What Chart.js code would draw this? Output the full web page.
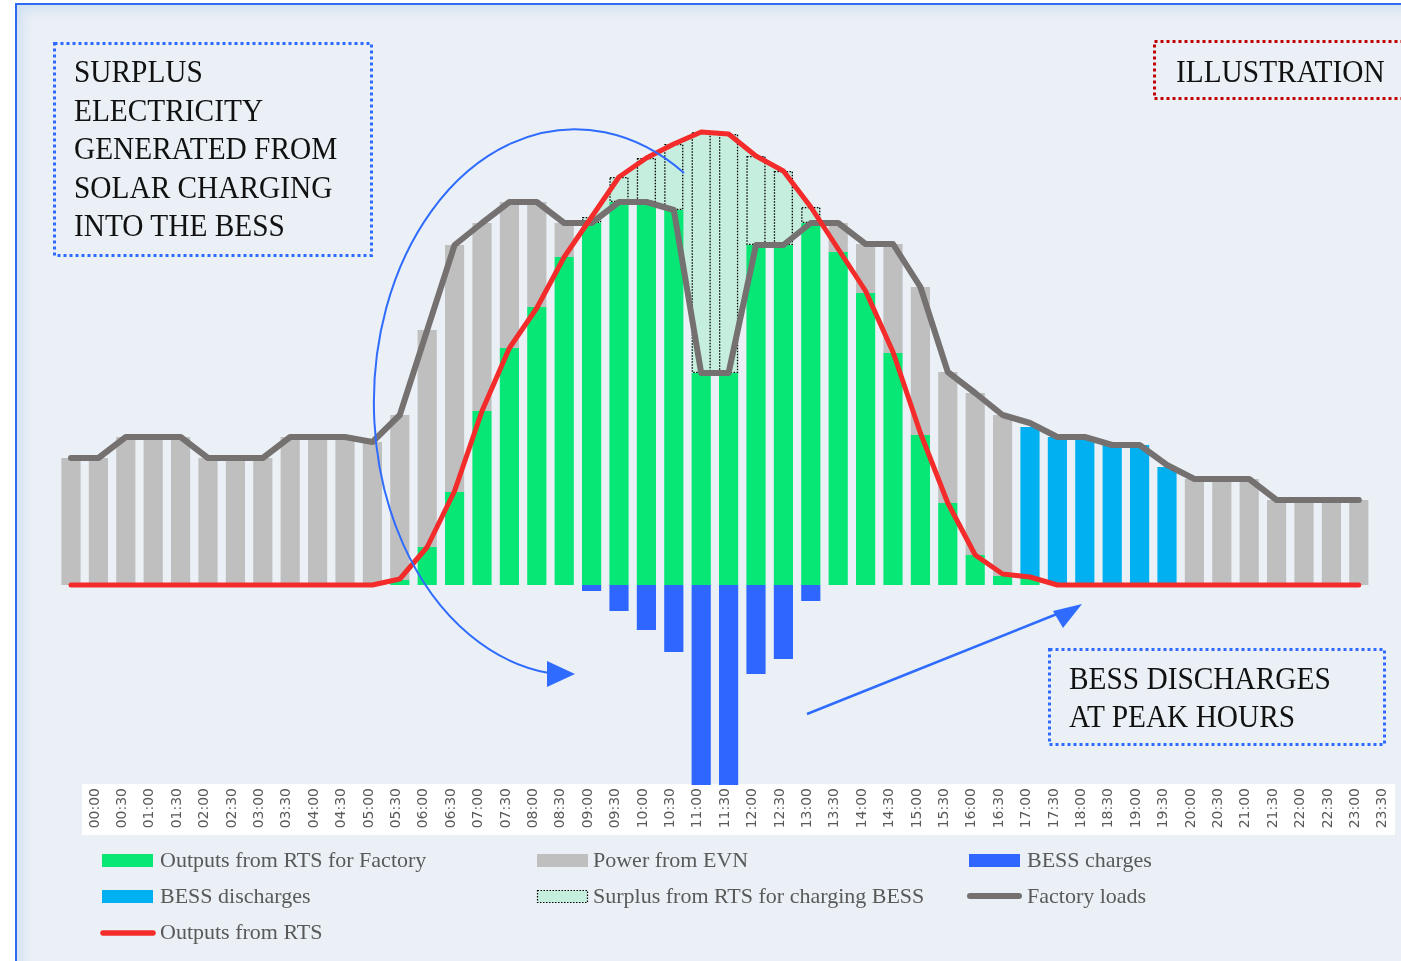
<!DOCTYPE html>
<html><head><meta charset="utf-8">
<script src="https://cdn.jsdelivr.net/npm/chart.js"></script>
<style>
html,body{margin:0;padding:0;background:#fff;width:1401px;height:961px;overflow:hidden;position:relative;}
#frame{position:absolute;left:15px;top:3px;width:1420px;height:990px;border-left:2px solid #2E6BF0;border-top:2px solid #2E6BF0;background:#EAF0F5;box-shadow:inset 10px 10px 14px -6px rgba(205,222,242,1);}
#c{position:absolute;left:0;top:0;}
#ov{position:absolute;left:0;top:0;}
.ann{position:absolute;font-family:'Liberation Serif',serif;font-size:32px;color:#111;line-height:38.6px;transform:scaleX(0.917);transform-origin:0 0;white-space:nowrap;}
.leg{position:absolute;font-family:'Liberation Serif',serif;font-size:22px;color:#595959;white-space:nowrap;line-height:22px;}
</style></head>
<body>
<div id="frame"></div>
<canvas id="c" width="1401" height="961"></canvas>
<svg id="ov" width="1401" height="961" xmlns="http://www.w3.org/2000/svg">
  <rect x="54.5" y="43.5" width="317" height="212" fill="none" stroke="#2F6BFF" stroke-width="3" stroke-dasharray="3 3"/>
  <rect x="1154.5" y="41.5" width="300" height="57" fill="none" stroke="#C00000" stroke-width="3" stroke-dasharray="3 3"/>
  <rect x="1049.5" y="649.5" width="335" height="95" fill="none" stroke="#2F6BFF" stroke-width="3" stroke-dasharray="3 3"/>
  <path d="M 684 173 A 201 273 0 1 0 549 673" fill="none" stroke="#2F6BFF" stroke-width="2"/>
  <polygon points="575,674 547,661 547,687" fill="#2F6BFF"/>
  <path d="M 807 714 L 1062 612" fill="none" stroke="#2F6BFF" stroke-width="2.5"/>
  <polygon points="1082,604 1053,611 1063,628" fill="#2F6BFF"/>
  <rect x="102" y="854" width="51" height="13" fill="#06E775"/>
  <rect x="537" y="854" width="51" height="13" fill="#BFBFBF"/>
  <rect x="969" y="854" width="51" height="13" fill="#2E66FF"/>
  <rect x="102" y="890" width="51" height="13" fill="#00B0F0"/>
  <rect x="537.5" y="890.5" width="50" height="12" fill="#C5EEDF" stroke="#000" stroke-width="1.2" stroke-dasharray="1.5 1.5"/>
  <line x1="970" y1="896" x2="1019" y2="896" stroke="#767171" stroke-width="6" stroke-linecap="round"/>
  <line x1="103" y1="933" x2="153" y2="933" stroke="#F32B2B" stroke-width="5.5" stroke-linecap="round"/>
</svg>
<div class="ann" style="left:74px;top:52px;">SURPLUS<br>ELECTRICITY<br>GENERATED FROM<br>SOLAR CHARGING<br>INTO THE BESS</div>
<div class="ann" style="left:1176px;top:52px;">ILLUSTRATION</div>
<div class="ann" style="left:1069px;top:659px;line-height:38px;">BESS DISCHARGES<br>AT PEAK HOURS</div>
<div class="leg" style="left:160px;top:849px;">Outputs from RTS for Factory</div>
<div class="leg" style="left:593px;top:849px;">Power from EVN</div>
<div class="leg" style="left:1027px;top:849px;">BESS charges</div>
<div class="leg" style="left:160px;top:885px;">BESS discharges</div>
<div class="leg" style="left:593px;top:885px;">Surplus from RTS for charging BESS</div>
<div class="leg" style="left:1027px;top:885px;">Factory loads</div>
<div class="leg" style="left:160px;top:921px;">Outputs from RTS</div>
<script>
const timeLabels = ['00:00','00:30','01:00','01:30','02:00','02:30','03:00','03:30','04:00','04:30','05:00','05:30',
  '06:00','06:30','07:00','07:30','08:00','08:30','09:00','09:30','10:00','10:30','11:00','11:30',
  '12:00','12:30','13:00','13:30','14:00','14:30','15:00','15:30','16:00','16:30','17:00','17:30',
  '18:00','18:30','19:00','19:30','20:00','20:30','21:00','21:30','22:00','22:30','23:00','23:30'];
const rtsForFactory = [0,0,0,0,0,0,0,0,0,0,0,0,
  5,38,93,174,237,278,328,362,383,383,375,212,
  212,340,340,362,333,292,232,150,82,30,9,6,
  0,0,0,0,0,0,0,0,0,0,0,0];
const bessDischarges = [0,0,0,0,0,0,0,0,0,0,0,0,
  0,0,0,0,0,0,0,0,0,0,0,0,
  0,0,0,0,0,0,0,0,0,0,0,152,
  148,147,140,140,118,0,0,0,0,0,0,0];
const powerFromEVN = [127,127,148,148,148,127,127,127,148,148,148,143,
  165,217,247,188,146,105,34,0,0,0,0,0,
  0,0,0,0,29,49,109,148,131,162,161,0,
  0,0,0,0,0,106,106,106,85,85,85,85];
const surplusForBESS = [0,0,0,0,0,0,0,0,0,0,0,0,
  0,0,0,0,0,0,0,6,25,44,66,241,
  239,89,74,16,0,0,0,0,0,0,0,0,
  0,0,0,0,0,0,0,0,0,0,0,0];
const bessCharges = [0,0,0,0,0,0,0,0,0,0,0,0,
  0,0,0,0,0,0,0,-6,-26,-45,-67,-241,
  -239,-89,-74,-16,0,0,0,0,0,0,0,0,
  0,0,0,0,0,0,0,0,0,0,0,0];
const factoryLoads = [127,127,148,148,148,127,127,127,148,148,148,143,
  170,255,340,362,383,383,362,362,383,383,375,212,
  212,340,340,362,362,341,341,298,213,192,170,162,
  148,148,140,140,120,106,106,106,85,85,85,85];
const rtsOutputs = [0,0,0,0,0,0,0,0,0,0,0,0,
  6,38,94,174,237,277,328,368,408,427,441,453,
  451,429,414,378,336,294,233,152,82,30,11,8,
  0,0,0,0,0,0,0,0,0,0,0,0];

const MINT = '#C5EEDF';

const stripPlugin = {
  id: 'strip',
  beforeDraw(chart) {
    const ctx = chart.ctx;
    ctx.save();
    ctx.fillStyle = '#FFFFFF';
    ctx.fillRect(82, chart.chartArea.bottom - 1, 1313, 51);
    ctx.restore();
  }
};
const dottedPlugin = {
  id: 'dotted',
  afterDatasetDraw(chart, args) {
    if (args.index !== 3) return;
    const ctx = chart.ctx;
    const ca = chart.chartArea;
    ctx.save();
    ctx.beginPath();
    ctx.rect(ca.left, ca.top, ca.right - ca.left, ca.bottom - ca.top);
    ctx.clip();
    ctx.strokeStyle = '#000';
    ctx.lineWidth = 1.3;
    ctx.setLineDash([1.5, 1.5]);
    args.meta.data.forEach((el, i) => {
      if (!surplusForBESS[i]) return;
      const p = el.getProps(['x', 'y', 'base', 'width'], true);
      const x0 = p.x - p.width / 2, x1 = p.x + p.width / 2;
      ctx.strokeRect(x0 + 0.65, Math.min(p.y, p.base) + 0.65, x1 - x0 - 1.3, Math.abs(p.base - p.y) - 1.3);
    });
    ctx.restore();
  }
};

new Chart(document.getElementById('c'), {
  data: {
    labels: timeLabels,
    datasets: [
      {type: 'bar', label: 'Outputs from RTS for Factory', data: rtsForFactory, backgroundColor: '#06E775', stack: 's', order: 2},
      {type: 'bar', label: 'BESS discharges', data: bessDischarges, backgroundColor: '#00B0F0', stack: 's', order: 2},
      {type: 'bar', label: 'Power from EVN', data: powerFromEVN, backgroundColor: '#BFBFBF', stack: 's', order: 2},
      {type: 'bar', label: 'Surplus from RTS for charging BESS', data: surplusForBESS, backgroundColor: MINT, stack: 's', order: 2},
      {type: 'bar', label: 'BESS charges', data: bessCharges, backgroundColor: '#2E66FF', stack: 's', order: 2},
      {type: 'line', label: 'Factory loads', data: factoryLoads, borderColor: '#767171', borderWidth: 6,
        pointRadius: 0, stack: 'load', order: 1, fill: false, borderCapStyle: 'round', borderJoinStyle: 'round', tension: 0},
      {type: 'line', label: 'Outputs from RTS', data: rtsOutputs, borderColor: '#F32B2B', borderWidth: 5,
        pointRadius: 0, stack: 'rts', order: 0, borderCapStyle: 'round', borderJoinStyle: 'round', tension: 0,
        fill: {target: 5, above: MINT, below: 'rgba(0,0,0,0)'}}
    ]
  },
  options: {
    responsive: false,
    animation: false,
    devicePixelRatio: 1,
    layout: {padding: {left: 57.3, right: 28.5, top: 15, bottom: 126}},
    datasets: {bar: {categoryPercentage: 1, barPercentage: 0.7, borderWidth: 0}},
    plugins: {legend: {display: false}, tooltip: {enabled: false}, filler: {drawTime: 'beforeDatasetsDraw'}},
    scales: {
      x: {
        stacked: true, offset: true,
        grid: {display: false, drawTicks: false}, border: {display: false},
        ticks: {autoSkip: false, minRotation: 90, maxRotation: 90, padding: 3, labelOffset: 24,
          color: '#595959', font: {family: 'DejaVu Sans', size: 14}},
        afterFit(s) { s.height = 50; }
      },
      y: {stacked: true, display: false, min: -200, max: 570}
    }
  },
  plugins: [stripPlugin, dottedPlugin]
});
</script>
</body></html>
